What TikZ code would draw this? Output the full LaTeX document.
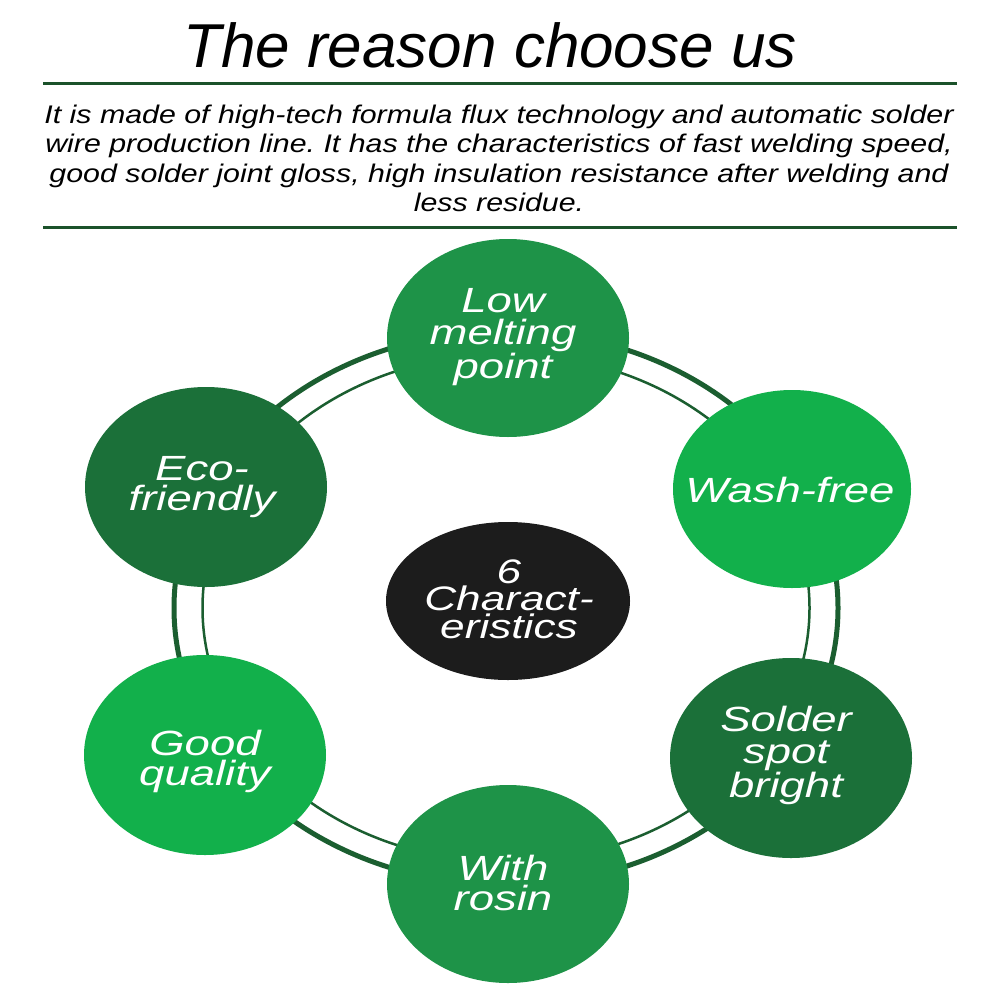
\documentclass[tikz,border=0pt]{standalone}
\usepackage{fontspec}
\setmainfont{Liberation Sans}
\newfontfamily\circfont[FakeStretch=1.3]{Liberation Sans}
\newfontfamily\parafont[FakeStretch=1.19]{Liberation Sans}
\usetikzlibrary{shapes.geometric}
\frenchspacing
\definecolor{midgreen}{RGB}{30,147,72}
\definecolor{brightgreen}{RGB}{18,176,75}
\definecolor{darkgreen}{RGB}{27,112,57}
\definecolor{centerblack}{RGB}{28,28,28}
\definecolor{ringgreen}{RGB}{27,94,48}
\definecolor{rulegreen}{RGB}{27,82,42}
\tikzset{
  bubble/.style={ellipse, inner sep=0pt, draw=none, minimum width=242pt, minimum height=198pt},
  bubtext/.style={text=white, align=center, anchor=base, inner sep=0pt},
  rulestyle/.style={draw=rulegreen, line width=3pt},
}
\begin{document}
\begin{tikzpicture}[x=1pt,y=-1pt]
\useasboundingbox (0,0) rectangle (1000,1000);
\fill[white] (0,0) rectangle (1000,1000);

% title and paragraph
\node[anchor=base, inner sep=0pt, font=\fontsize{62}{70}\selectfont\itshape] (title) at (490,68) {The reason choose us};
\coordinate (r1a) at (43,84); \coordinate (r1b) at (957,84);
\coordinate (r2a) at (43,227.5); \coordinate (r2b) at (957,227.5);
\draw[rulestyle] (r1a) -- (r1b);
\draw[rulestyle] (r2a) -- (r2b);
\node[anchor=base, align=center, inner sep=0pt, font=\parafont\fontsize{25.5}{29.5}\selectfont\itshape\frenchspacing] (para) at (499,211.5) {%
It is made of high-tech formula flux technology and automatic solder\\
wire production line. It has the characteristics of fast welding speed,\\
good solder joint gloss, high insulation resistance after welding and\\
less residue.};

% ring
\draw[ringgreen, line width=5pt] (506,608) ellipse [x radius=332, y radius=277];
\draw[ringgreen, line width=2.5pt] (506,608) ellipse [x radius=303.5, y radius=254];

% bubbles
\node[bubble, fill=midgreen] (low) at (508,338) {};
\node[bubble, fill=brightgreen, minimum width=238pt] (wash) at (792,489) {};
\node[bubble, fill=darkgreen, minimum height=200pt] (eco) at (206,487) {};
\node[bubble, fill=darkgreen, minimum height=200pt] (solder) at (791,758) {};
\node[bubble, fill=brightgreen, minimum height=200pt] (good) at (205,755) {};
\node[bubble, fill=midgreen] (rosin) at (508,884) {};
\node[bubble, fill=centerblack, minimum width=244pt, minimum height=158pt] (center) at (508,601) {};

% texts
\node[bubtext, font=\circfont\fontsize{35}{31.5}\selectfont\itshape] (lowt) at (503,378) {Low\\melting\\point};
\node[bubtext, font=\circfont\fontsize{35}{31}\selectfont\itshape] (washt) at (790,502) {Wash-free};
\node[bubtext, font=\circfont\fontsize{35}{30}\selectfont\itshape] (ecot) at (202,510) {Eco-\\friendly};
\node[bubtext, font=\circfont\fontsize{34}{27.5}\selectfont\itshape] (centert) at (509,638) {6\\Charact-\\eristics};
\node[bubtext, font=\circfont\fontsize{35}{32}\selectfont\itshape] (soldert) at (786,797) {Solder\\spot\\bright};
\node[bubtext, font=\circfont\fontsize{35}{30}\selectfont\itshape] (goodt) at (205,785) {Good\\quality};
\node[bubtext, font=\circfont\fontsize{35}{30}\selectfont\itshape] (rosint) at (503,910) {With\\rosin};
\end{tikzpicture}
\end{document}
